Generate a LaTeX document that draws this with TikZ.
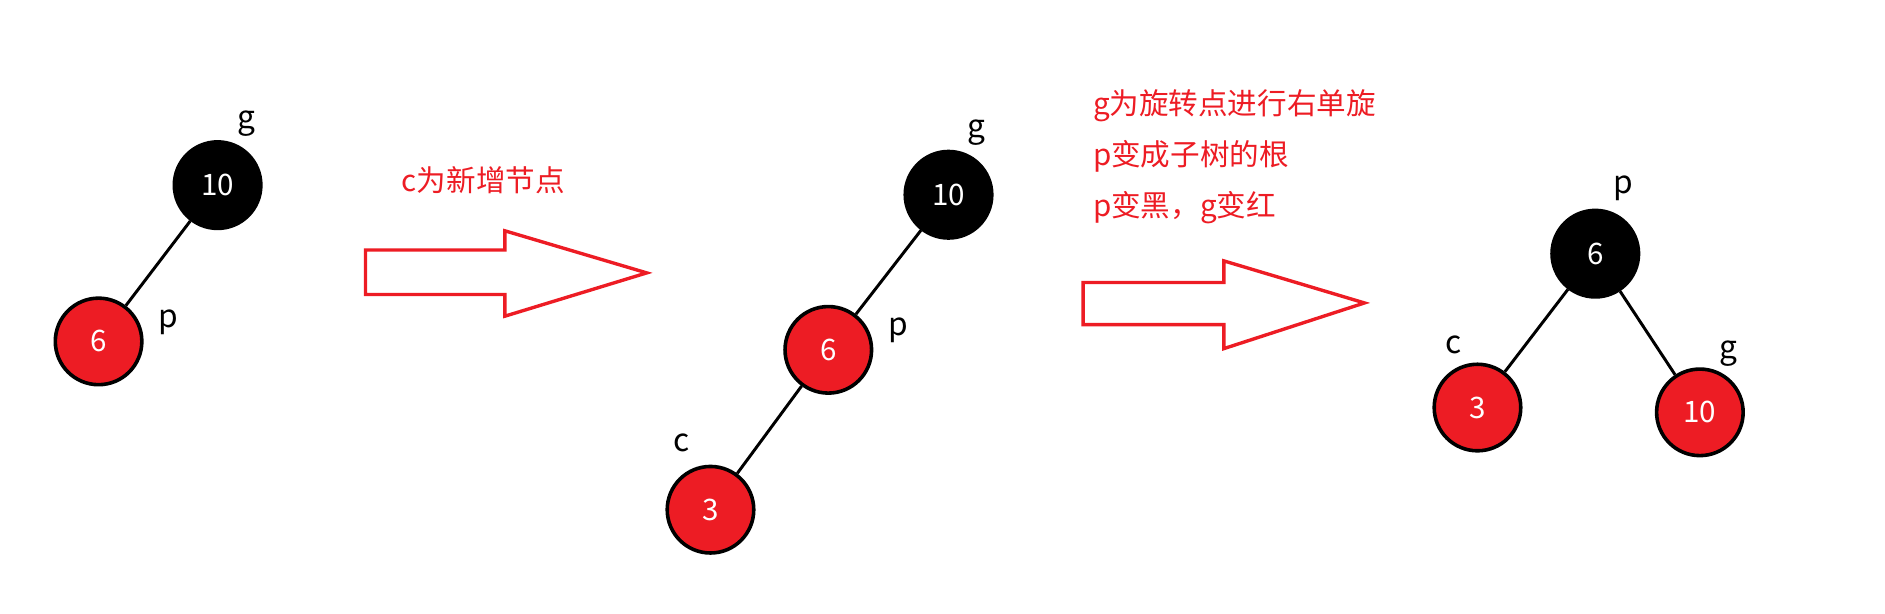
\documentclass[tikz,border=0pt]{standalone}
\usepackage{fontspec}
\setmainfont{Noto Sans CJK SC}
\definecolor{rd}{HTML}{ED1C24}
\begin{document}
\begin{tikzpicture}[x=0.02cm,y=-0.02cm,
  rb/.style={circle,draw=black,line width=1.7pt,minimum size=1.44cm,inner sep=0pt,text=white,font=\fontsize{14}{16}\selectfont},
  rn/.style={rb,fill=rd}, bn/.style={rb,fill=black},
  lab/.style={font=\fontsize{15}{17}\selectfont},
  edge/.style={line width=1.4pt},
  bigarrow/.style={draw=rd,line width=1.6pt},
  note/.style={text=rd,font=\fontsize{14}{17}\selectfont,anchor=west}]
\useasboundingbox (0,0) rectangle (1568,510);
% left tree
\node[bn] (a10) at (181,154) {10};
\node[rn] (a6) at (82,284) {6};
\draw[edge] (a10) -- (a6);
\node[lab] (ag) at (205,103) {g};
\node[lab] (ap) at (140,268) {p};
% arrow 1
\draw[bigarrow] (304,208) -- (420,208) -- (420,192) -- (538,227) -- (420,263) -- (420,245) -- (304,245) -- cycle;
\node[note,anchor=center] (t1) at (402,150) {c为新增节点};
% middle tree
\node[bn] (b10) at (789,162) {10};
\node[rn] (b6) at (689,291) {6};
\node[rn] (b3) at (591,424) {3};
\draw[edge] (b10) -- (b6);
\draw[edge] (b6) -- (b3);
\node[lab] (bg) at (812,110) {g};
\node[lab] (bp) at (747,275) {p};
\node[lab] (bc) at (567,368) {c};
% arrow 2
\draw[bigarrow] (901,235) -- (1018,235) -- (1018,217) -- (1135,252) -- (1018,290) -- (1018,270) -- (901,270) -- cycle;
\node[note] (t2) at (903,88) {g为旋转点进行右单旋};
\node[note] (t3) at (903,130) {p变成子树的根};
\node[note] (t4) at (903,173) {p变黑，g变红};
% right tree
\node[bn] (c6) at (1327,211) {6};
\node[rn] (c3) at (1229,339) {3};
\node[rn] (c10) at (1414,343) {10};
\draw[edge] (c6) -- (c3);
\draw[edge] (c6) -- (c10);
\node[lab] (cp) at (1350,157) {p};
\node[lab] (cc) at (1209,287) {c};
\node[lab] (cg) at (1438,294) {g};
\end{tikzpicture}
\end{document}
